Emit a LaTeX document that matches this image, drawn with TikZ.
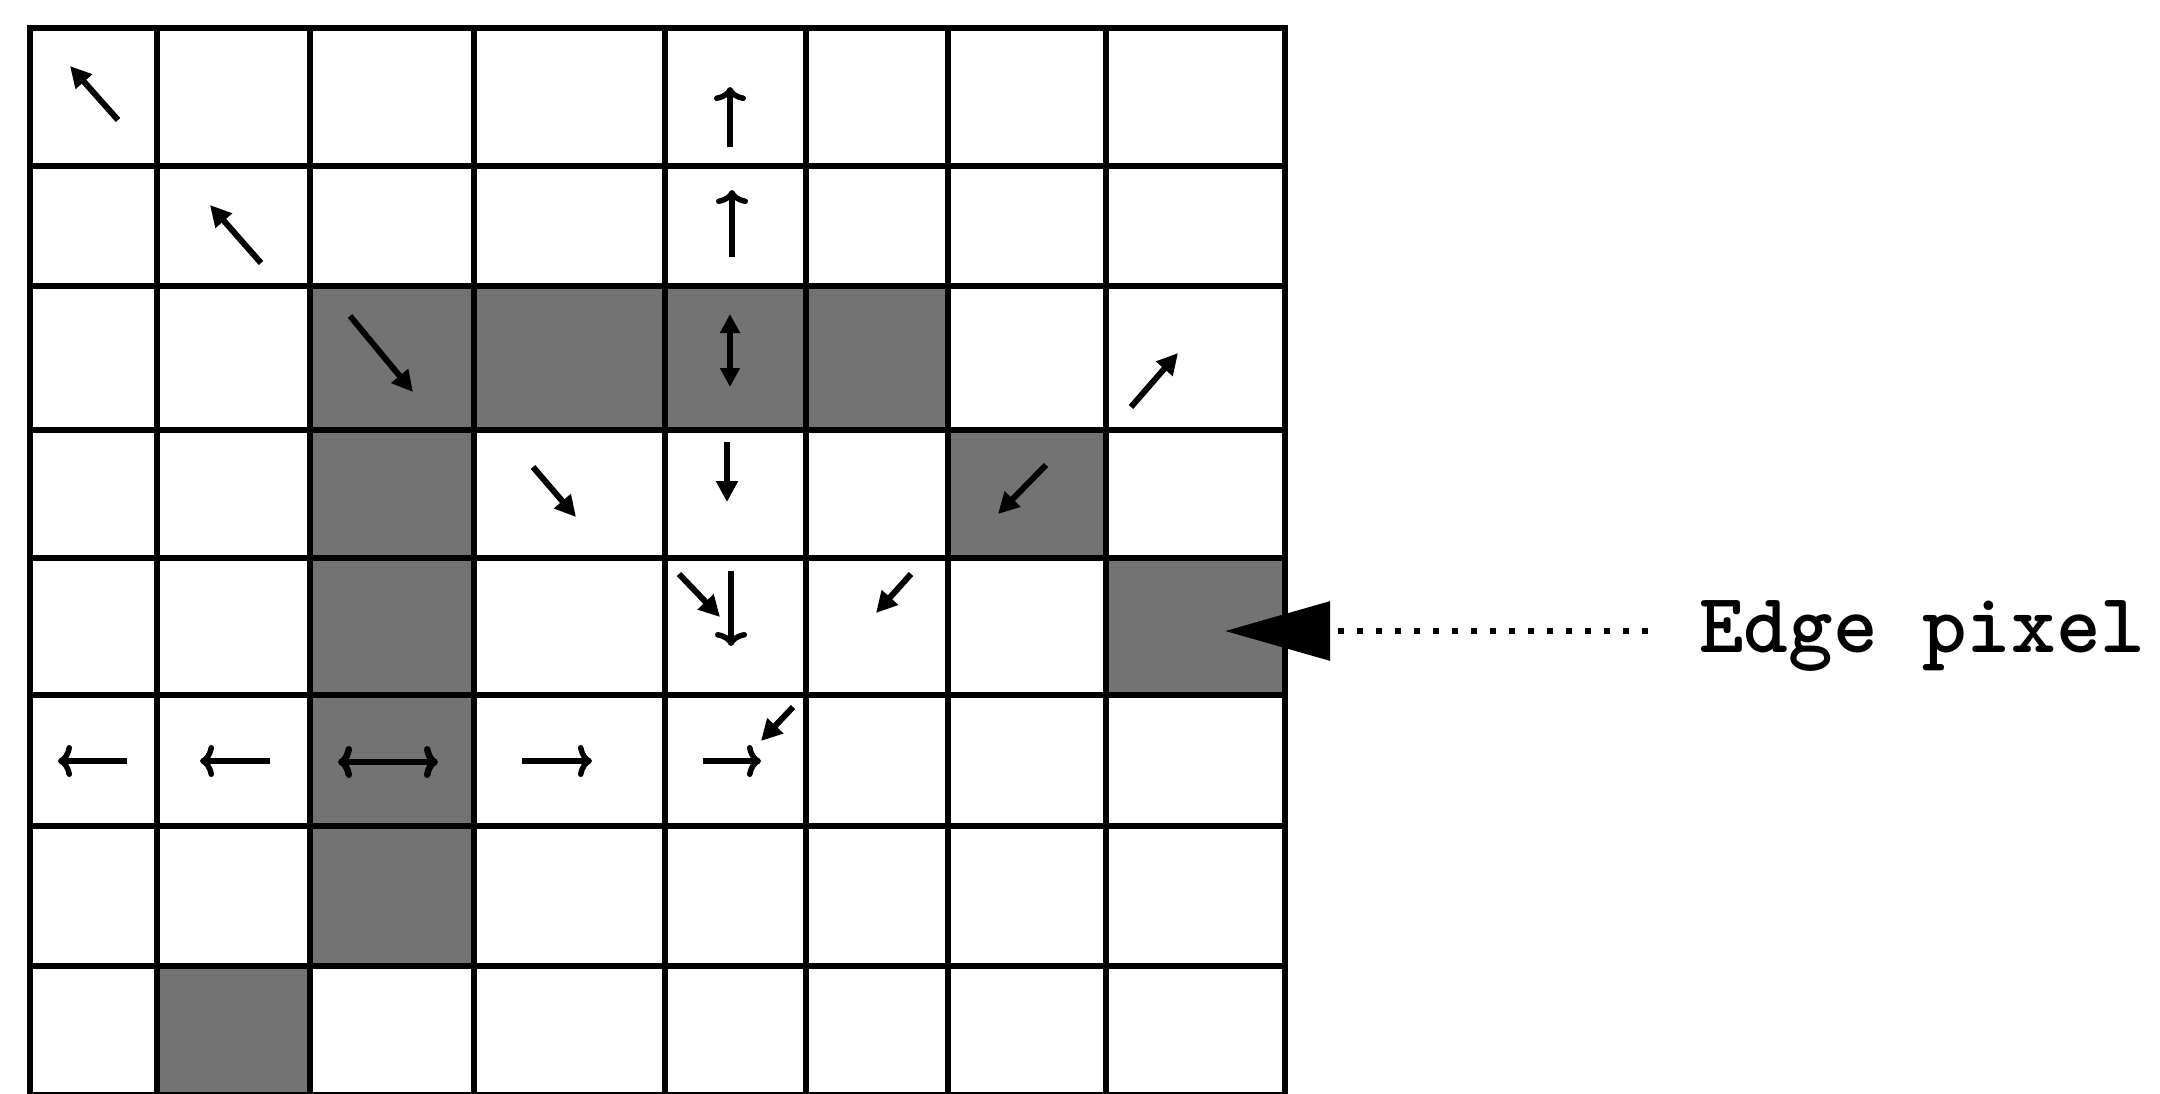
\documentclass[tikz,border=0pt]{standalone}
\usetikzlibrary{arrows.meta}
\begin{document}
\begin{tikzpicture}[x=1pt,y=-1pt,
  gridline/.style={line width=6.5pt, line cap=rect, draw=black},
  shaded/.style={fill=black!55, draw=none},
  solidarrow/.style={line width=6pt, -{Triangle[length=21pt,width=21pt]}},
  solidboth/.style={line width=6pt, {Triangle[length=19pt,width=19pt]}-{Triangle[length=19pt,width=19pt]}},
  barbarrow/.style={line width=5.5pt, -{To[length=14pt,width=32pt]}},
  barbboth/.style={line width=6.5pt, {To[length=14pt,width=32pt]}-{To[length=14pt,width=32pt]}},
  pointer/.style={line width=6pt, dash pattern=on 6pt off 13pt, -{Triangle[length=105pt,width=58pt]}},
  labeltext/.style={inner sep=0pt, anchor=base west, font=\ttfamily\bfseries\fontsize{85}{85}\selectfont}
]
\useasboundingbox (0,0) rectangle (2160,1093);
% shaded cells
\fill[shaded] (310,286) rectangle (948,430);
\fill[shaded] (310,430) rectangle (474,966);
\fill[shaded] (948,430) rectangle (1106,558);
\fill[shaded] (1106,558) rectangle (1285,695);
\fill[shaded] (157,966) rectangle (310,1093);
% grid
\foreach \x in {30,157,310,474,665,806,948,1106,1285}
  \draw[gridline] (\x,28) -- (\x,1096);
\foreach \y in {28,166,286,430,558,695,826,966,1095}
  \draw[gridline] (30,\y) -- (1285,\y);
% arrows, rows 1-2
\draw[solidarrow] (118,120) -- (70,66);
\draw[solidarrow] (261,263) -- (210,205);
\draw[barbarrow] (730,147) -- (730,87);
\draw[barbarrow] (732,257) -- (732,190);
% row 3
\draw[solidarrow] (350,316) -- (413,392);
\draw[solidboth] (730,387) -- (730,314);
\draw[solidarrow] (1131,407) -- (1178,353);
% row 4
\draw[solidarrow] (533,467) -- (576,517);
\draw[solidarrow] (727,442) -- (727,502);
\draw[solidarrow] (1046,465) -- (998,514);
% row 5
\draw[solidarrow] (679,574) -- (720,617);
\draw[barbarrow] (731,571) -- (731,646);
\draw[solidarrow] (911,574) -- (876,613);
% row 6
\draw[barbarrow] (127,761) -- (58,761);
\draw[barbarrow] (270,761) -- (200,761);
\draw[barbboth] (338,762) -- (438,762);
\draw[barbarrow] (522,761) -- (592,761);
\draw[barbarrow] (703,761) -- (761,761);
\draw[solidarrow] (793,707) -- (761,741);
% label
\node[labeltext] (lbl) at (1699,652) {Edge pixel};
\coordinate (lblend) at (1648,631);
\coordinate (ep) at (1225,631);
\draw[pointer] (lblend) -- (ep);
\end{tikzpicture}
\end{document}
